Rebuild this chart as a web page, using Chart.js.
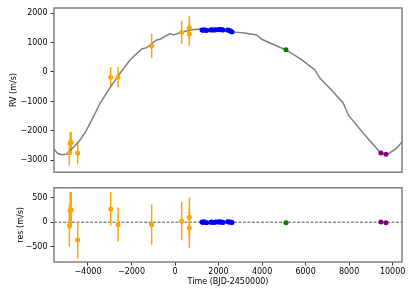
<!DOCTYPE html>
<html>
<head>
<meta charset="utf-8">
<script src="https://cdn.jsdelivr.net/npm/chart.js@4"></script>
<style>
  body { margin: 0; background: #fff; }
  #wrap { position: relative; width: 415px; height: 297px; }
  #wrap canvas { position: absolute; left: 0; }
</style>
</head>
<body>
<div id="wrap">
  <canvas id="rvChart" width="415" height="180" style="top:0"></canvas>
  <canvas id="resChart" width="415" height="117" style="top:180px"></canvas>
</div>
<script>
// Datos
const xTicks = [-4000, -2000, 0, 2000, 4000, 6000, 8000, 10000];
const rvTicks = [-3000, -2000, -1000, 0, 1000, 2000];
const resTicks = [-500, 0, 500];

// Instrumento 1 (naranja)
const orangeTime = [-4855, -4815, -4770, -4470, -2955, -2618, -1072, 307, 658, 658];
const orangeRV = [-2750, -2420, -2390, -2750, -180, -180, 880, 1345, 1500, 1290];
const orangeErr = [430, 380, 360, 385, 340, 345, 410, 390, 400, 410];
const orangeRes = [-70, 240, 255, -360, 270, -50, -50, 20, 100, -120];

// Instrumento 2 (azul)
const blueTime = [1240, 1290, 1330, 1390, 1450, 1640, 1690, 1750, 1820, 1880, 1990, 2040, 2100, 2160, 2210, 2420, 2470, 2530, 2580, 2620];
const blueRV = [1420, 1415, 1425, 1420, 1410, 1425, 1430, 1420, 1425, 1430, 1435, 1440, 1430, 1435, 1425, 1425, 1415, 1400, 1375, 1355];
const blueRes = [5, -5, 10, 0, -10, 0, 5, -5, 0, 5, 5, 10, 0, 5, -5, 10, 5, 5, 0, -5];

// Instrumento 3 (verde) e instrumento 4 (morado)
const greenTime = [5099];
const greenRV = [750];
const greenRes = [-10];
const purpleTime = [9462, 9692];
const purpleRV = [-2750, -2790];
const purpleRes = [5, -10];

// Modelo
const modelTime = [-5560, -5400, -5205, -5000, -4855, -4620, -4364, -4150, -3982, -3700, -3445, -2955, -2526, -2067, -1531, -1301, -842, -689, -230, -78, 307, 689, 1148, 1500, 2000, 2604, 3200, 3753, 3983, 5099, 5800, 6431, 6661, 7200, 7732, 7962, 8651, 9187, 9462, 9798, 10183, 10441];
const modelRV = [-2620, -2760, -2810, -2790, -2700, -2520, -2305, -2080, -1853, -1450, -1062, -497, -45, 407, 780, 825, 1085, 1110, 1300, 1258, 1345, 1424, 1460, 1450, 1450, 1360, 1320, 1254, 1110, 746, 430, 68, -214, -620, -1062, -1458, -2078, -2532, -2756, -2780, -2587, -2363];

const xMin = -5560, xMax = 10430;

const FONT = { family: 'DejaVu Sans', size: 8 };
Chart.defaults.font = FONT;
Chart.defaults.color = '#000';

function pts(xs, ys) {
    return xs.map((x, i) => ({ x: x, y: ys[i] }));
}

function fmt(v) {
    return String(v).replace('-', '\u2212');
}

// Marco, barras de error y linea de cero
const framePlugin = {
    id: 'frame',
    beforeDatasetsDraw(chart) {
        const ctx = chart.ctx;
        const xs = chart.scales.x, ys = chart.scales.y;
        const a = chart.chartArea;
        ctx.save();
        if (chart.options.plugins.frame.zeroLine) {
            const y0 = ys.getPixelForValue(0);
            ctx.strokeStyle = '#555';
            ctx.lineWidth = 1;
            ctx.setLineDash([3, 1.5]);
            ctx.beginPath();
            ctx.moveTo(a.left, y0);
            ctx.lineTo(a.right, y0);
            ctx.stroke();
            ctx.setLineDash([]);
        }
        chart.data.datasets.forEach(ds => {
            if (!ds.errors) return;
            ctx.strokeStyle = ds.backgroundColor;
            ctx.lineWidth = 1.5;
            ds.data.forEach((p, i) => {
                const px = xs.getPixelForValue(p.x);
                ctx.beginPath();
                ctx.moveTo(px, ys.getPixelForValue(p.y - ds.errors[i]));
                ctx.lineTo(px, ys.getPixelForValue(p.y + ds.errors[i]));
                ctx.stroke();
            });
        });
        ctx.restore();
    },
    afterDraw(chart) {
        const a = chart.chartArea;
        const ctx = chart.ctx;
        ctx.save();
        ctx.strokeStyle = '#808080';
        ctx.lineWidth = 1.5;
        ctx.strokeRect(a.left, a.top, a.right - a.left, a.bottom - a.top);
        ctx.restore();
    }
};

function dot(label, data, color, errors) {
    return {
        label: label,
        data: data,
        backgroundColor: color,
        borderColor: color,
        pointRadius: 2.5,
        pointBorderWidth: 0,
        showLine: false,
        errors: errors
    };
}

function yAxis(min, max, ticks, title, titlePad) {
    return {
        min: min,
        max: max,
        afterFit: s => { s.width = 54; },
        afterBuildTicks: s => { s.ticks = ticks.map(v => ({ value: v })); },
        ticks: { padding: 3, callback: v => fmt(v) },
        grid: { drawOnChartArea: false, tickLength: 3.5, tickColor: '#333' },
        border: { display: false },
        title: { display: true, text: title, font: FONT, padding: { top: titlePad, bottom: 0 } }
    };
}

// Panel superior: velocidad radial
new Chart(document.getElementById('rvChart'), {
    type: 'scatter',
    data: {
        datasets: [
            dot('inst1', pts(orangeTime, orangeRV), '#FFA500', orangeErr),
            dot('inst2', pts(blueTime, blueRV), '#0000FF'),
            dot('inst3', pts(greenTime, greenRV), '#008000'),
            dot('inst4', pts(purpleTime, purpleRV), '#800080'),
            {
                label: 'modelo',
                data: pts(modelTime, modelRV),
                showLine: true,
                borderColor: '#808080',
                borderWidth: 1.5,
                pointRadius: 0,
                tension: 0,
                order: 1
            }
        ]
    },
    options: {
        responsive: false,
        animation: false,
        layout: { padding: { left: 0, right: 13, top: 8, bottom: 7 } },
        plugins: { legend: { display: false }, tooltip: { enabled: false }, frame: { zeroLine: false } },
        scales: {
            x: { type: 'linear', min: xMin, max: xMax, display: false },
            y: yAxis(-3400, 2170, rvTicks, 'RV (m/s)', 9)
        }
    },
    plugins: [framePlugin]
});

// Panel inferior: residuos
new Chart(document.getElementById('resChart'), {
    type: 'scatter',
    data: {
        datasets: [
            dot('inst1', pts(orangeTime, orangeRes), '#FFA500', orangeErr),
            dot('inst2', pts(blueTime, blueRes), '#0000FF'),
            dot('inst3', pts(greenTime, greenRes), '#008000'),
            dot('inst4', pts(purpleTime, purpleRes), '#800080')
        ]
    },
    options: {
        responsive: false,
        animation: false,
        layout: { padding: { left: 0, right: 13, top: 6, bottom: 0 } },
        plugins: { legend: { display: false }, tooltip: { enabled: false }, frame: { zeroLine: true } },
        scales: {
            x: {
                type: 'linear',
                min: xMin,
                max: xMax,
                afterFit: s => { s.height = 35; },
                afterBuildTicks: s => { s.ticks = xTicks.map(v => ({ value: v })); },
                ticks: { padding: 2, maxRotation: 0, callback: v => fmt(v) },
                grid: { drawOnChartArea: false, tickLength: 3.5, tickColor: '#333' },
                border: { display: false },
                title: { display: true, text: 'Time (BJD-2450000)', font: FONT, padding: { top: 0, bottom: 10 } }
            },
            y: yAxis(-810, 700, resTicks, 'res (m/s)', 16)
        }
    },
    plugins: [framePlugin]
});
</script>
</body>
</html>
